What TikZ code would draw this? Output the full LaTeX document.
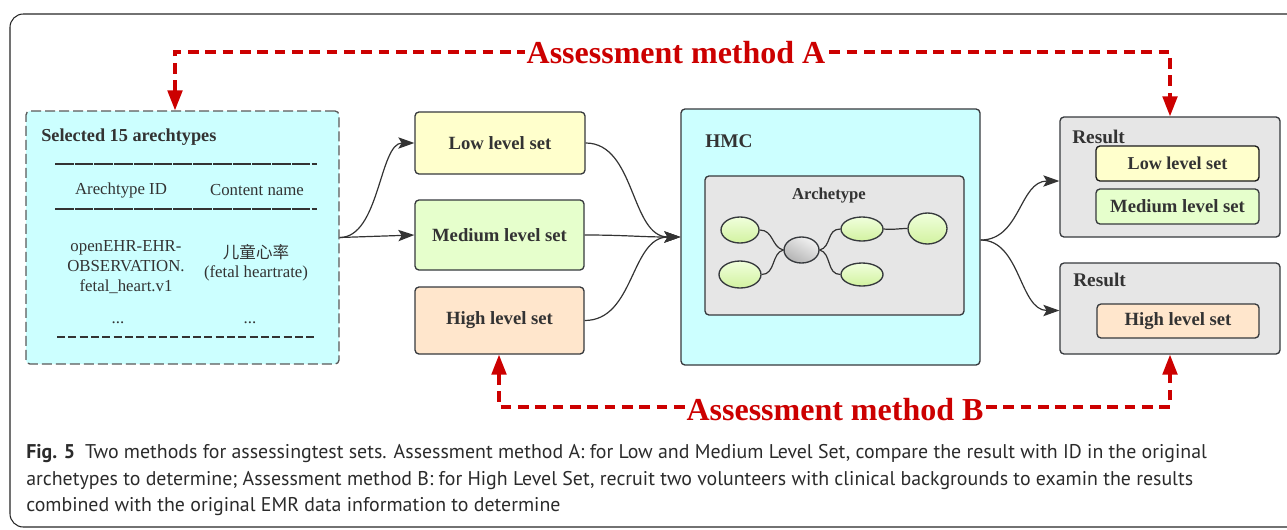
\documentclass[tikz,border=0pt]{standalone}
\usepackage{fontspec}
\setmainfont{Liberation Serif}
\newfontfamily\capfont{PT Sans}
\newfontfamily\cjk{Noto Sans CJK SC}
\usetikzlibrary{arrows.meta,shapes.geometric,calc}
\definecolor{txt}{HTML}{333333}
\definecolor{edge}{HTML}{36393D}
\definecolor{cyanf}{HTML}{CCFFFF}
\definecolor{yelf}{HTML}{FFFFCC}
\definecolor{grnf}{HTML}{E6FFCC}
\definecolor{orgf}{HTML}{FFE6CC}
\definecolor{grayf}{HTML}{E6E6E6}
\definecolor{redA}{HTML}{CC0000}
\definecolor{capc}{HTML}{2B2B2B}
\definecolor{elltop}{HTML}{F0FFDC}
\definecolor{ellbot}{HTML}{D2F2A0}
\begin{document}
\begin{tikzpicture}[x=0.75pt,y=-0.75pt,
  box/.style={draw=edge, line width=1pt, rounded corners=3pt, inner sep=0pt, text=txt},
  setlbl/.style={font=\fontsize{14pt}{16pt}\selectfont\bfseries},
  head/.style={font=\fontsize{14.5pt}{16pt}\selectfont\bfseries, text=txt, inner sep=0pt},
  cell/.style={font=\fontsize{12.6pt}{15pt}\selectfont, text=txt, inner sep=0pt, align=center},
  tline/.style={draw=txt, line width=0.9pt},
  conn/.style={draw=txt, line width=0.9pt, -{Stealth[length=12pt,width=8.5pt,inset=2.5pt]}},
  lnk/.style={draw=txt, line width=0.9pt},
  reddash/.style={draw=redA, line width=2.4pt, dash pattern=on 8pt off 5pt,
    {Triangle[length=15pt,width=11pt]}-{Triangle[length=15pt,width=11pt]}},
  redlbl/.style={font=\fontsize{24pt}{26pt}\selectfont\bfseries, text=redA, fill=white, inner sep=1.5pt},
  ell/.style={ellipse, draw=edge, line width=1pt, inner sep=0pt, top color=elltop, bottom color=ellbot},
]
\clip (0,0) rectangle (1287,529);
\useasboundingbox (0,0) rectangle (1287,529);
% outer frame
\draw[black!85, line width=0.8pt, rounded corners=10pt] (10,14) rectangle (1310,527);

% selected archetypes box
\node[box, fill=cyanf, draw=black!65, dash pattern=on 7.5pt off 3pt, minimum width=234.75pt, minimum height=189.75pt] (sel) at (182.5,237.5) {};
\node[head, font=\fontsize{13.7pt}{16pt}\selectfont\bfseries, anchor=west] (selt) at (41,137) {Selected 15 arechtypes};
\coordinate (t1l) at (55,164); \coordinate (t1r) at (317,164);
\coordinate (t2l) at (55,209); \coordinate (t2r) at (317,209);
\coordinate (t3l) at (57,337); \coordinate (t3r) at (315,337);
\draw[tline, dash pattern=on 14pt off 0.8pt] (t1l) -- (t1r);
\draw[tline, dash pattern=on 14pt off 0.8pt] (t2l) -- (t2r);
\draw[tline, dash pattern=on 6pt off 2.5pt] (t3l) -- (t3r);
\node[cell] (c11) at (121,190) {Arechtype ID};
\node[cell] (c12) at (257,190) {Content name};
\node[cell, font=\fontsize{12.6pt}{15pt}\selectfont] (c21) at (126,267) {openEHR-EHR-\\OBSERVATION.\\fetal\_heart.v1};
\node[cell, font=\fontsize{12.4pt}{15pt}\selectfont\cjk] (c22a) at (256,252) {儿童心率};
\node[cell] (c22b) at (256,273) {(fetal heartrate)};
\node[cell] (c31) at (118,323) {...};
\node[cell] (c32) at (250,323) {...};

% level sets
\node[box, fill=yelf, minimum width=127.5pt, minimum height=46.5pt, setlbl] (low) at (500,143) {Low level set};
\node[box, fill=grnf, minimum width=126.75pt, minimum height=52.5pt, setlbl] (med) at (499.5,235) {Medium level set};
\node[box, fill=orgf, minimum width=126.75pt, minimum height=50.25pt, setlbl] (high) at (499.5,320.5) {High level set};

% HMC
\node[box, fill=cyanf, minimum width=224.25pt, minimum height=192pt] (hmc) at (830.5,237) {};
\node[head, anchor=west] (hmct) at (705,141) {HMC};
\node[box, fill=grayf, minimum width=194.25pt, minimum height=104.25pt] (arc) at (834.5,245.5) {};
\node[head, font=\fontsize{12.5pt}{14pt}\selectfont\bfseries] (arct) at (829,196) {Archetype};
\node[ell, minimum width=28.5pt, minimum height=19.5pt] (lt) at (740,230) {};
\node[ell, minimum width=31.5pt, minimum height=20.25pt] (lb) at (740,274.5) {};
\node[ellipse, draw=edge, line width=1pt, inner sep=0pt, minimum width=26.25pt, minimum height=19.5pt,
      shading=axis, top color=white!95!black, bottom color=black!30, shading angle=-30] (ce) at (801.5,250) {};
\node[ell, minimum width=31.5pt, minimum height=18pt] (rt) at (862,229) {};
\node[ell, minimum width=29.25pt, minimum height=23.25pt] (fr) at (927.5,228.5) {};
\node[ell, minimum width=31.5pt, minimum height=17.25pt] (rb) at (862,274.5) {};
\draw[lnk] (lt.east) .. controls +(14,0) and +(-12,-3) .. (ce.west);
\draw[lnk] (lb.east) .. controls +(14,0) and +(-12,3) .. (ce.west);
\draw[lnk] (ce.east) .. controls +(12,-3) and +(-14,0) .. (rt.west);
\draw[lnk] (ce.east) .. controls +(12,3) and +(-14,0) .. (rb.west);
\draw[lnk] (rt.east) .. controls +(10,1) and +(-10,0) .. (fr.west);

% results
\node[box, fill=grayf, minimum width=165pt, minimum height=90pt] (res1) at (1170,177) {};
\node[head, anchor=west] (res1t) at (1072,137) {Result};
\node[box, draw=black!90, fill=yelf, minimum width=122.25pt, minimum height=26.25pt, setlbl, font=\fontsize{13.6pt}{15pt}\selectfont\bfseries] (rlow) at (1177.5,163.5) {Low level set};
\node[box, fill=grnf, minimum width=122.25pt, minimum height=26.25pt, setlbl] (rmed) at (1177.5,206.5) {Medium level set};
\node[box, fill=grayf, minimum width=165pt, minimum height=68.25pt] (res2) at (1170,308.5) {};
\node[head, anchor=west] (res2t) at (1073,280) {Result};
\node[box, fill=orgf, minimum width=121.5pt, minimum height=25.5pt, setlbl] (rhigh) at (1178,321) {High level set};

% connectors
\draw[conn] (sel.east) .. controls +(40,0) and +(-35,0) .. (low.west);
\draw[conn] (sel.east) -- (med.west);
\draw[conn] (low.east) .. controls +(50,0) and +(-50,0) .. (hmc.west);
\draw[conn] (med.east) .. controls +(40,0) and +(-40,0) .. (hmc.west);
\draw[conn] (high.east) .. controls +(50,0) and +(-50,0) .. (hmc.west);
\draw[conn] ([yshift=-2.25pt]hmc.east) .. controls +(40,0) and +(-40,0) .. ([yshift=-3pt]res1.west);
\draw[conn] ([yshift=-2.25pt]hmc.east) .. controls +(40,0) and +(-40,0) .. ([yshift=-1.5pt]res2.west);

% assessment methods
\coordinate (aL) at (175,52); \coordinate (aR) at (1170,52);
\coordinate (bL) at (499,407); \coordinate (bR) at (1170,407);
\draw[reddash] (aL|-sel.north) -- (aL) -- (aR) -- (aR|-res1.north);
\draw[reddash] (bL|-high.south) -- (bL) -- (bR) -- (bR|-res2.south);
\node[redlbl] (lblA) at (676,53) {Assessment method A};
\node[redlbl] (lblB) at (835,410) {Assessment method B};

% caption
\node[anchor=north west, inner sep=0pt, align=left, text=capc, font=\capfont\fontsize{14.9pt}{20pt}\selectfont] (cap) at (26,444)
 {\textbf{Fig. 5}\enspace Two methods for assessingtest sets. Assessment method A: for Low and Medium Level Set, compare the result with ID in the original\\
  archetypes to determine; Assessment method B: for High Level Set, recruit two volunteers with clinical backgrounds to examin the results\\
  combined with the original EMR data information to determine};
\end{tikzpicture}
\end{document}
